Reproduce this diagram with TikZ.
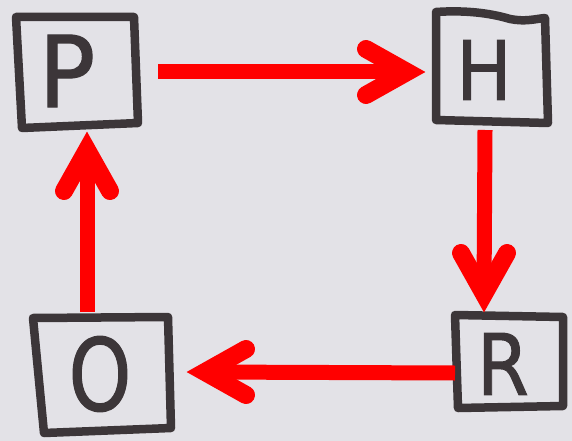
\documentclass[tikz,border=0pt]{standalone}
\usepackage{fontspec}
\setmainfont{DejaVu Sans}
\newfontfamily\markerfont[FakeBold=1.2]{DejaVu Sans}
\definecolor{bg}{RGB}{227,226,231}
\definecolor{ink}{RGB}{60,54,57}
\definecolor{arr}{RGB}{255,0,0}
\tikzset{
  box/.style={draw=ink, line width=8.5pt, line join=round, line cap=round},
  letter/.style={text=ink, inner sep=0pt, font=\markerfont\fontsize{#1}{#1}\selectfont},
  shaft/.style={draw=arr, line width=15pt, line cap=butt},
  barb/.style={draw=arr, line width=18pt, line cap=round, line join=miter},
}
\newcommand\barbhead[2]{\begin{scope}[shift={(#1)},rotate=#2]\draw[barb] (-41,23) -- (0,0) -- (-41,-23);\end{scope}}
\begin{document}
\begin{tikzpicture}[x=1pt,y=-1pt]
\fill[bg] (0,0) rectangle (572,441);
\useasboundingbox (0,0) rectangle (572,441);
% boxes
\draw[box] (16,17) -- (134,17) -- (138,123) -- (22,128) -- cycle;
\draw[box] (436,12) .. controls (465,10) and (490,13) .. (510,19) .. controls (525,22) and (535,19) .. (545,18) -- (548,123) -- (436,120) -- cycle;
\draw[box] (455,315) -- (563,317) -- (563,406) -- (458,408) -- cycle;
\draw[box] (33,318) -- (168,317) -- (171,428) -- (44,433) -- cycle;
% letters
\node[letter=99, xscale=0.95] (P) at (67,71) {P};
\node[letter=82, xscale=0.9] (H) at (484,70) {H};
\node[letter=85, xscale=0.88] (R) at (503,364) {R};
\node[letter=100, xscale=0.8] (O) at (100,374) {O};
% connector end points
\coordinate (ph0) at (158,72);
\coordinate (ph1) at (407,72);
\coordinate (hr0) at (485,130);
\coordinate (hr1) at (484,294);
\coordinate (ro0) at (455,373);
\coordinate (ro1) at (205,372);
\coordinate (op0) at (87,312);
\coordinate (op1) at (87,150);
% arrows
\draw[shaft] (ph0) -- (ph1);
\barbhead{ph1}{0}
\draw[shaft] (hr0) -- (hr1);
\barbhead{hr1}{-90}
\draw[shaft] (ro0) -- (ro1);
\barbhead{ro1}{180}
\draw[shaft] (op0) -- (op1);
\barbhead{op1}{90}
\end{tikzpicture}
\end{document}
